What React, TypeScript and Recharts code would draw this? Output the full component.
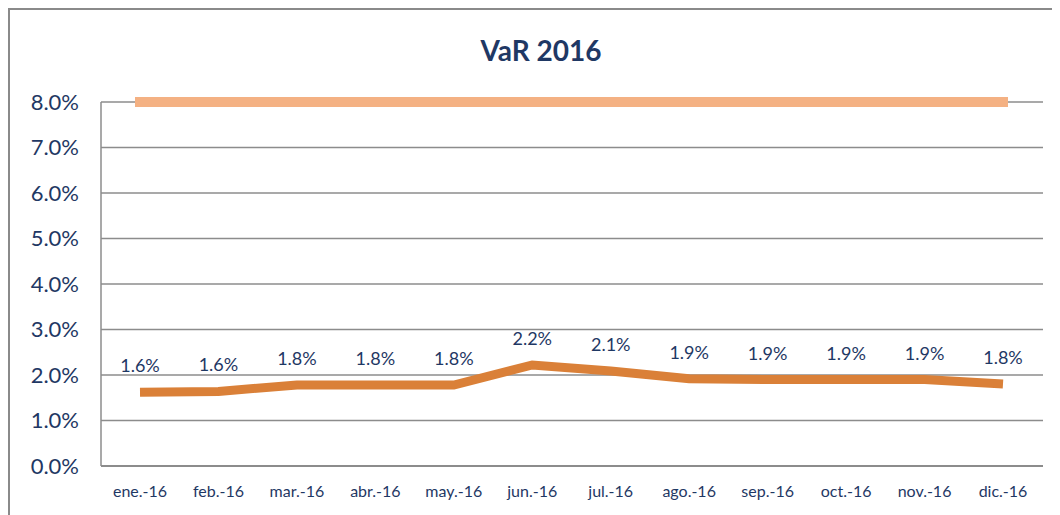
import React from 'react';
import { LineChart, Line, XAxis, YAxis, CartesianGrid, LabelList } from 'recharts';

const months = ['ene.-16', 'feb.-16', 'mar.-16', 'abr.-16', 'may.-16', 'jun.-16', 'jul.-16', 'ago.-16', 'sep.-16', 'oct.-16', 'nov.-16', 'dic.-16'];
const varValues = [1.62, 1.64, 1.78, 1.78, 1.78, 2.22, 2.09, 1.92, 1.9, 1.9, 1.9, 1.8];
const limitValues = [8, 8, 8, 8, 8, 8, 8, 8, 8, 8, 8, 8];
const yTicks = [0, 1, 2, 3, 4, 5, 6, 7, 8];

const data = months.map((m, i) => ({ month: m, var: varValues[i], limit: limitValues[i] }));

const navy = '#1F3864';
const font = 'Lato, "Open Sans", sans-serif';

const pct = (v: number) => v.toFixed(1) + '%';

export default function App() {
  return (
    <div
      style={{
        position: 'relative',
        width: 1080,
        height: 515,
        borderTop: '2px solid #8a8a8a',
        borderLeft: '2px solid #8a8a8a',
        boxSizing: 'border-box',
        fontFamily: font,
      }}
    >
      <div
        style={{
          position: 'absolute',
          top: 23,
          left: 0,
          width: 1062,
          textAlign: 'center',
          fontSize: 28,
          fontWeight: 700,
          color: navy,
        }}
      >
        VaR 2016
      </div>
      <LineChart width={1033} height={505} data={data} margin={{ top: 92, right: 0, left: 0, bottom: 17 }}>
        <CartesianGrid vertical={false} stroke="#8c8c8c" strokeWidth={1.5} />
        <XAxis
          dataKey="month"
          padding={{ left: 39, right: 40 }}
          tickLine={false}
          axisLine={{ stroke: '#8c8c8c', strokeWidth: 2 }}
          tick={{ fill: navy, fontSize: 16, fontFamily: font }}
          tickMargin={14}
          interval={0}
          height={32}
        />
        <YAxis
          domain={[0, 8]}
          ticks={yTicks}
          tickFormatter={pct}
          tickLine={false}
          axisLine={{ stroke: '#8c8c8c', strokeWidth: 1.5 }}
          tick={{ fill: navy, fontSize: 22, fontFamily: font }}
          tickSize={0}
          tickMargin={22}
          width={91}
        />
        <Line
          dataKey="limit"
          stroke="#F4B183"
          strokeWidth={10}
          strokeLinecap="square"
          dot={false}
          isAnimationActive={false}
        />
        <Line
          dataKey="var"
          stroke="#DA8038"
          strokeWidth={9}
          dot={false}
          isAnimationActive={false}
        >
          <LabelList
            dataKey="var"
            position="top"
            offset={20}
            formatter={(v: number) => pct(v)}
            style={{ fill: navy, fontSize: 18, fontFamily: font }}
          />
        </Line>
      </LineChart>
    </div>
  );
}
